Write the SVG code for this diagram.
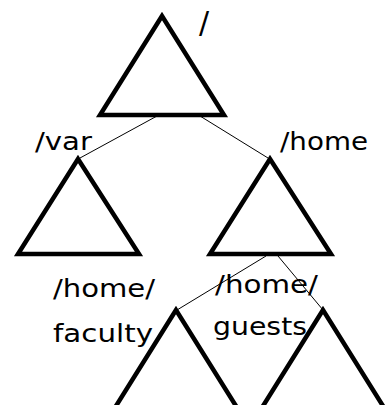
<svg xmlns="http://www.w3.org/2000/svg" width="387" height="405" viewBox="0 0 387 405">
<style>
.tri{fill:none;stroke:#000;stroke-width:4.5;stroke-linejoin:miter}
.edge{stroke:#000;stroke-width:1;fill:none}
.lbl{font-family:"DejaVu Sans","Liberation Sans",sans-serif;font-size:25px;fill:#000}
</style>
<rect width="387" height="405" fill="#fff"/>
<g id="connectors">
<line class="edge" x1="157" y1="116" x2="80" y2="158"/>
<line class="edge" x1="200" y1="116" x2="268" y2="158"/>
<line class="edge" x1="266" y1="256" x2="177" y2="310"/>
<line class="edge" x1="278" y1="256" x2="323" y2="310"/>
</g>
<g id="root">
<polygon class="tri" points="162,16 100,115 224,115"/>
<text class="lbl" x="199" y="33" style="font-size:30px">/</text>
</g>
<g id="var">
<polygon class="tri" points="78,159 18,254 139,254"/>
<text class="lbl" x="35" y="150" textLength="57" lengthAdjust="spacingAndGlyphs">/var</text>
</g>
<g id="home">
<polygon class="tri" points="270,159 210,254 331,254"/>
<text class="lbl" x="280" y="150" textLength="88" lengthAdjust="spacingAndGlyphs">/home</text>
</g>
<g id="faculty">
<polygon class="tri" points="176,310 111,414 241,414"/>
<text class="lbl" x="53" y="297" textLength="102" lengthAdjust="spacingAndGlyphs">/home/</text>
<text class="lbl" x="53" y="342" textLength="100" lengthAdjust="spacingAndGlyphs">faculty</text>
</g>
<g id="guests">
<polygon class="tri" points="323,310 258,414 388,414"/>
<text class="lbl" x="215" y="293" textLength="103" lengthAdjust="spacingAndGlyphs">/home/</text>
<text class="lbl" x="213" y="335" textLength="94" lengthAdjust="spacingAndGlyphs">guests</text>
</g>
</svg>
